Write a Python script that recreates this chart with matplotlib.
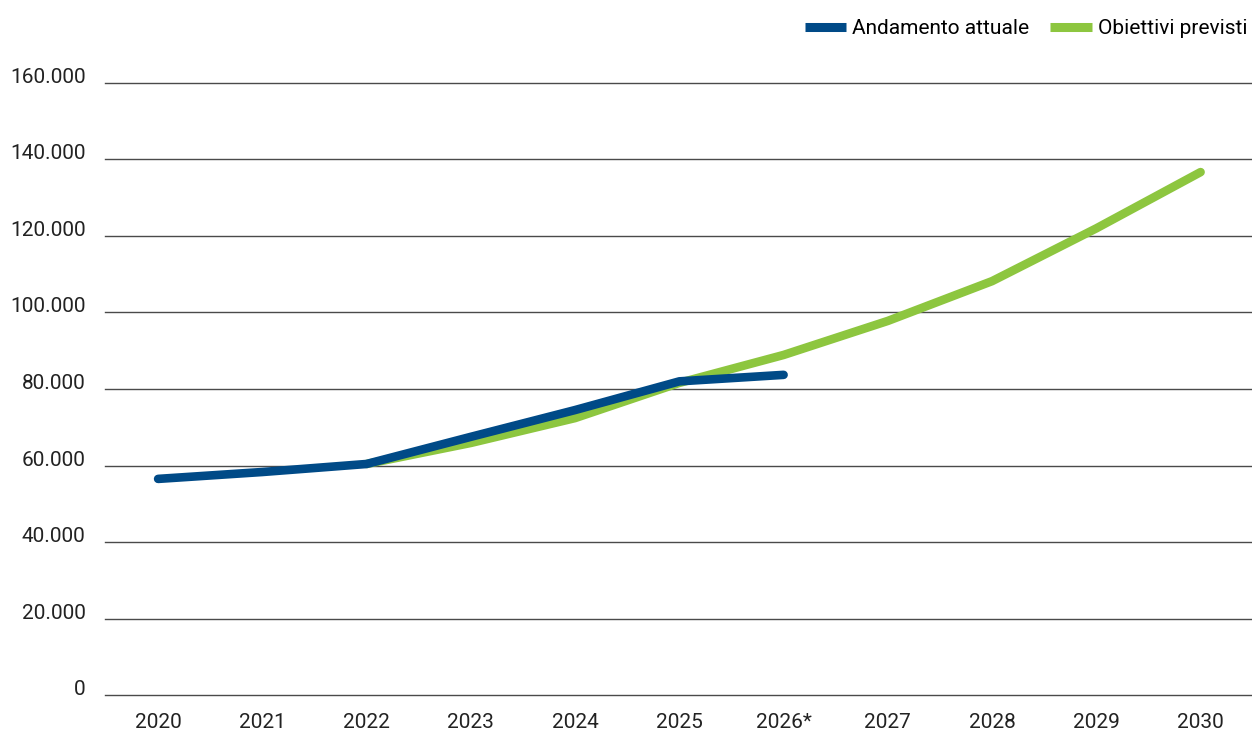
import matplotlib.pyplot as plt
from matplotlib.lines import Line2D

plt.rcParams['font.family'] = ['Roboto', 'DejaVu Sans']

years = ["2020", "2021", "2022", "2023", "2024", "2025", "2026*", "2027", "2028", "2029", "2030"]
actual = [56500, 58300, 60400, 67500, 74500, 82000, 83700]
target_start = 2
target = [60400, 65900, 72400, 81600, 88900, 97800, 108200, 122000, 136700]
yticks = [0, 20000, 40000, 60000, 80000, 100000, 120000, 140000, 160000]

blue = "#004a87"
green = "#8dc63f"

fig = plt.figure(figsize=(12.52, 7.33), dpi=100)
ax = fig.add_axes([0.0839, 0.0518, 0.915, 0.835])

x_all = list(range(len(years)))
ax.plot(x_all[target_start:target_start + len(target)], target, color=green,
        linewidth=6.2, solid_capstyle="round", solid_joinstyle="round", clip_on=False, zorder=3)
ax.plot(x_all[:len(actual)], actual, color=blue,
        linewidth=6.2, solid_capstyle="round", solid_joinstyle="round", clip_on=False, zorder=4)

ax.set_xlim(-0.509, 10.48)
ax.set_ylim(0, 160000)
ax.set_xticks(x_all)
ax.set_xticklabels(years)
ax.set_yticks(yticks)
ax.set_yticklabels([f"{v:,}".replace(",", ".") for v in yticks])

for v in yticks:
    ax.axhline(v, color="#4a4a4a", linewidth=1, zorder=1, clip_on=False)

for s in ax.spines.values():
    s.set_visible(False)
ax.tick_params(axis="both", length=0, labelsize=15, labelcolor="#222222")
ax.tick_params(axis="x", pad=13)
ax.tick_params(axis="y", pad=14)
for lab in ax.get_yticklabels():
    lab.set_verticalalignment("baseline")

handles = [Line2D([], [], color=blue, linewidth=6.5, solid_capstyle="butt"),
           Line2D([], [], color=green, linewidth=6.5, solid_capstyle="butt")]
fig.legend(handles, ["Andamento attuale", "Obiettivi previsti"], loc="upper right",
           bbox_to_anchor=(1.01, 0.997), ncol=2, frameon=False, fontsize=15,
           handlelength=2.0, handletextpad=0.3, columnspacing=1.0, borderaxespad=0.4)

fig.savefig("out.png", dpi=100)
